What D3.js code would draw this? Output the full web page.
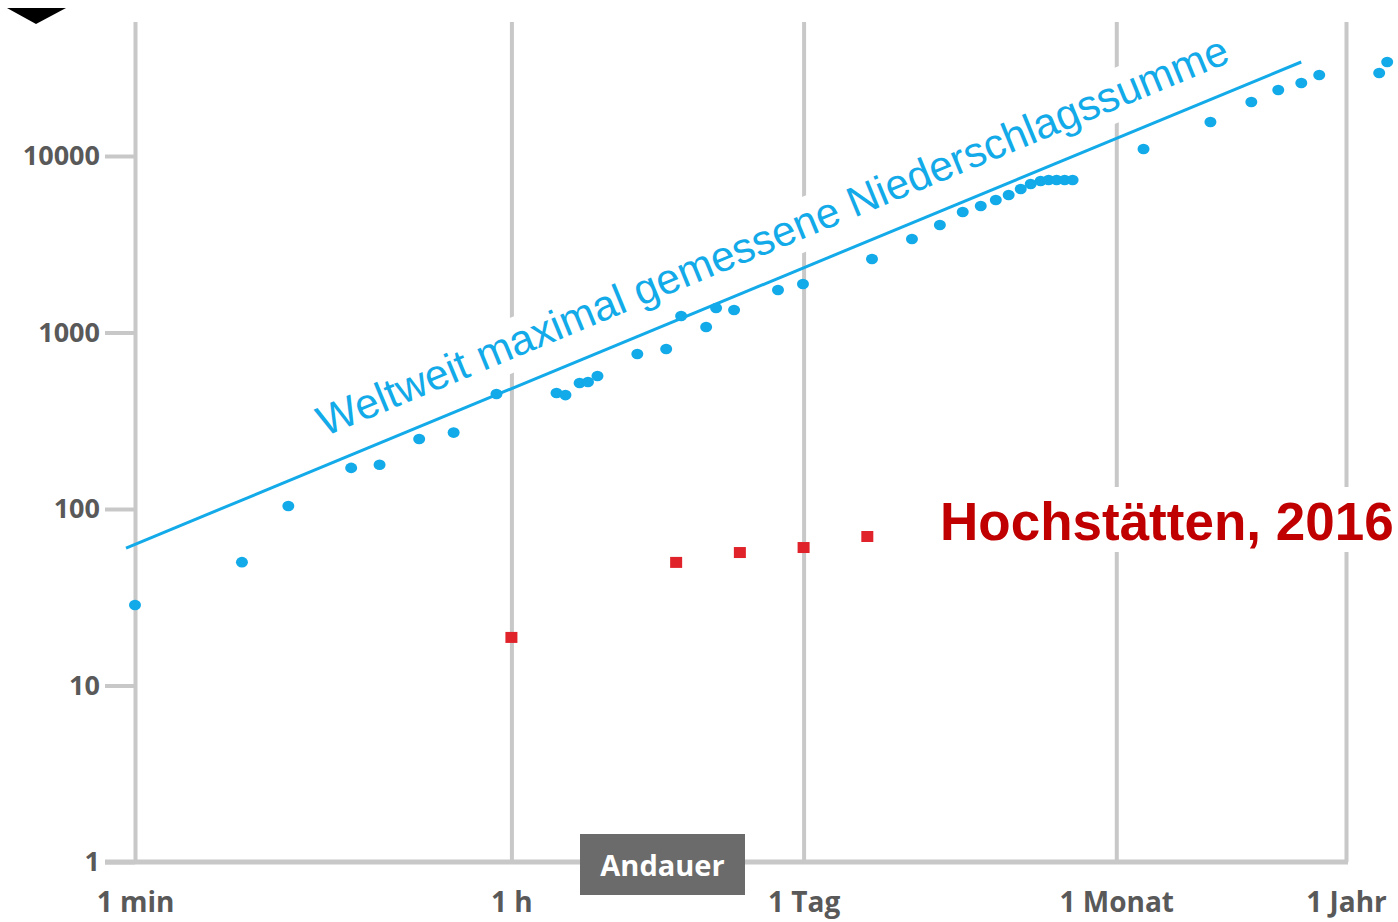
<!DOCTYPE html>
<html>
<head>
<meta charset="utf-8">
<script src="https://cdn.jsdelivr.net/npm/d3@7"></script>
<style>
  html, body { margin: 0; padding: 0; background: #fff; }
  svg { display: block; }
</style>
</head>
<body>
<svg id="chart" width="1398" height="922"></svg>
<script>
// ---- Data (duration in minutes, precipitation in mm) ----
const worldDurations = [1, 3.2, 5.3, 10.5, 14.3, 22, 32, 51, 98, 108, 126, 138, 153, 236, 323, 380, 499, 556, 676, 1090, 1430, 3030, 4680, 6340, 8130, 9890, 11650, 13400, 15280, 17030, 18970, 20700, 22580, 24640, 26870, 58100, 120300, 187700, 251600, 323200, 392800, 754000, 822700];
const worldValues    = [28.6, 50, 104, 171, 178, 249, 271, 448, 454, 442, 517, 524, 567, 755, 806, 1240, 1074, 1377, 1341, 1741, 1883, 2609, 3386, 4064, 4816, 5208, 5632, 6012, 6502, 6935, 7215, 7310, 7310, 7310, 7310, 10960, 15580, 20230, 23650, 25920, 28760, 29540, 34090];
const localDurations = [60, 360, 720, 1440, 2880];
const localValues    = [18.6, 49.5, 56.3, 60.1, 69.4];
const envelopeDurations = [0.907, 323000];
const envelopeValues    = [60.1, 34090];
const xTickValues = [1, 60, 1440, 43200, 525600];
const xTickLabels = ["1 min", "1 h", "1 Tag", "1 Monat", "1 Jahr"];
const yTickValues = [1, 10, 100, 1000, 10000];
const envelopeLabel = "Weltweit maximal gemessene Niederschlagssumme";
const localLabel = "Hochstätten, 2016";
const axisTitle = "Andauer";

// ---- Layout ----
const svg = d3.select("#chart");
const blue = "#12aae8";
const grid = "#c8c8c8";
const labelGray = "#595959";

const x = d3.scaleLog().domain([1, 525600]).range([135, 1346]);
const y = d3.scaleLog().domain([1, 10000]).range([862, 156]);
const gridTop = 22;

// vertical gridlines + x labels via axis
const xAxis = d3.axisBottom(x)
  .tickValues(xTickValues)
  .tickFormat((d, i) => xTickLabels[i])
  .tickSize(-(y(1) - gridTop))
  .tickPadding(30);
const gx = svg.append("g").attr("transform", `translate(0,${y(1)})`).call(xAxis);
gx.select(".domain").remove();
gx.selectAll(".tick line").attr("stroke", grid).attr("stroke-width", 4);
gx.selectAll(".tick text")
  .attr("fill", labelGray)
  .attr("font-family", "'Open Sans', sans-serif")
  .attr("font-weight", "bold")
  .attr("font-size", 28);

// y axis ticks
const yAxis = d3.axisLeft(y)
  .tickValues(yTickValues)
  .tickFormat(d3.format("d"))
  .tickSize(30)
  .tickPadding(5);
const gy = svg.append("g").attr("transform", `translate(${x(1)},0)`).call(yAxis);
gy.select(".domain").remove();
gy.selectAll(".tick line").attr("stroke", grid).attr("stroke-width", 4);
gy.selectAll(".tick text")
  .attr("fill", labelGray)
  .attr("font-family", "'Open Sans', sans-serif")
  .attr("font-weight", "bold")
  .attr("font-size", 27);

// horizontal base line
svg.append("line")
  .attr("x1", x(1) - 30).attr("x2", x(525600) + 2)
  .attr("y1", y(1)).attr("y2", y(1))
  .attr("stroke", grid).attr("stroke-width", 5);

// envelope label with white box
const p0 = [x(envelopeDurations[0]), y(envelopeValues[0])];
const p1 = [x(envelopeDurations[1]), y(envelopeValues[1])];
const ang = Math.atan2(p1[1] - p0[1], p1[0] - p0[0]) * 180 / Math.PI;
const lbl = svg.append("g").attr("transform", `translate(${p0[0]},${p0[1]}) rotate(${ang})`);
const lblRect = lbl.append("rect").attr("fill", "#fff");
const lblText = lbl.append("text")
  .attr("x", 226).attr("y", -27)
  .attr("fill", blue)
  .attr("font-family", "'Liberation Sans', Arial, sans-serif")
  .attr("font-size", 42.5)
  .text(envelopeLabel);
const tl = lblText.node().getComputedTextLength();
lblRect.attr("x", 218).attr("y", -66).attr("width", tl + 16).attr("height", 52);

// local label box
svg.append("rect").attr("x", 934).attr("y", 487).attr("width", 464).attr("height", 65).attr("fill", "#fff");
svg.append("text")
  .attr("x", 940).attr("y", 540)
  .attr("fill", "#c00000")
  .attr("font-family", "'Liberation Sans', Arial, sans-serif")
  .attr("font-weight", "bold")
  .attr("font-size", 53)
  .text(localLabel);

// envelope line
svg.append("path")
  .datum(envelopeDurations.map((d, i) => [d, envelopeValues[i]]))
  .attr("d", d3.line().x(d => x(d[0])).y(d => y(d[1])))
  .attr("stroke", blue).attr("stroke-width", 3).attr("fill", "none");

// world record points
svg.append("g").selectAll("ellipse")
  .data(worldDurations.map((d, i) => [d, worldValues[i]]))
  .join("ellipse")
  .attr("cx", d => x(d[0])).attr("cy", d => y(d[1]))
  .attr("rx", 6).attr("ry", 5.3)
  .attr("fill", blue);

// local points
const sq = 12;
svg.append("g").selectAll("rect")
  .data(localDurations.map((d, i) => [d, localValues[i]]))
  .join("rect")
  .attr("x", d => x(d[0]) - sq / 2).attr("y", d => y(d[1]) - sq / 2)
  .attr("width", sq).attr("height", sq - 1)
  .attr("fill", "#e0232a");

// axis title box
svg.append("rect").attr("x", 580).attr("y", 834).attr("width", 165).attr("height", 61).attr("fill", "#6b6b6b");
svg.append("text")
  .attr("x", 662.5).attr("y", 876)
  .attr("text-anchor", "middle")
  .attr("fill", "#fff")
  .attr("font-family", "'Open Sans', sans-serif")
  .attr("font-weight", "bold")
  .attr("font-size", 29)
  .text(axisTitle);

// black triangle marker top-left
svg.append("path")
  .attr("d", d3.line()([[7, 8], [66, 8], [36, 24]]) + "Z")
  .attr("fill", "#000");
</script>
</body>
</html>
